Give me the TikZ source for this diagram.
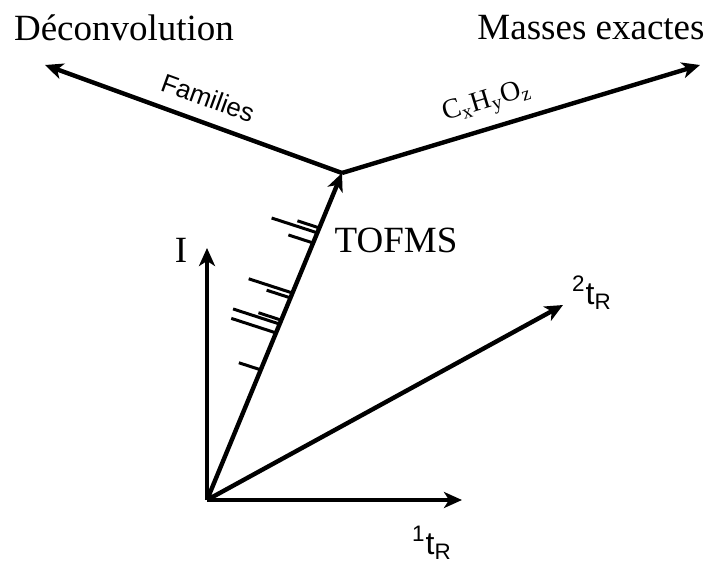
\documentclass[tikz,border=0pt]{standalone}
\usepackage{fontspec}
\setmainfont{Liberation Serif}
\setsansfont{Liberation Sans}
\usetikzlibrary{arrows.meta,calc}
\newcommand{\tR}[1]{\textsuperscript{#1}t\textsubscript{R}}

\begin{document}
\begin{tikzpicture}[x=0.5pt,y=-0.5pt,
  axis/.style={line width=2.2pt,-{Stealth[length=9pt,width=8pt,inset=2.5pt]}},
  peak/.style={line width=1.5pt},
  big/.style={font=\fontsize{18.5}{20}\selectfont},
  small/.style={font=\fontsize{14}{16}\selectfont},
  tlab/.style={font=\sffamily\fontsize{16}{18}\selectfont}]
  \useasboundingbox (0,0) rectangle (717,566);
  \coordinate (O) at (207,500);
  \coordinate (I) at (207,248);
  \coordinate (t1) at (462,500);
  \coordinate (t2) at (563,305);
  \coordinate (M) at (342,173);
  \coordinate (D) at (45,65);
  \coordinate (E) at (700,65);
  % axes
  \draw[axis] (O) -- (I);
  \draw[axis] (O) -- (t1);
  \draw[axis] (O) -- (t2);
  \draw[axis] (O) -- (M);
  \draw[axis] (M) -- (D);
  \draw[axis] (M) -- (E);
  % spectrum along TOFMS
  \foreach \p/\l in {0.832/23,0.817/48,0.786/26,0.633/46,0.618/25,
                     0.550/24,0.538/49,0.511/47,0.398/23}
    \draw[peak] ($(O)!\p!(M)$) -- ++(198:\l);
  % labels
  \node[big] (dec) at (124,28) {Déconvolution};
  \node[big] (mass) at (591,28) {Masses exactes};
  \node[big] (tof) at (396,240) {TOFMS};
  \node[big] (ilab) at (181,250) {I};
  \node[font=\sffamily\fontsize{13}{15}\selectfont,rotate=-20] (fam) at (208,98) {Families};
  \node[small,rotate=17] (cho) at (487,103) {C\textsubscript{x}H\textsubscript{y}O\textsubscript{z}};
  \node[tlab] (lab1) at (432,543) {\tR{1}};
  \node[tlab] (lab2) at (592,293) {\tR{2}};
\end{tikzpicture}
\end{document}
